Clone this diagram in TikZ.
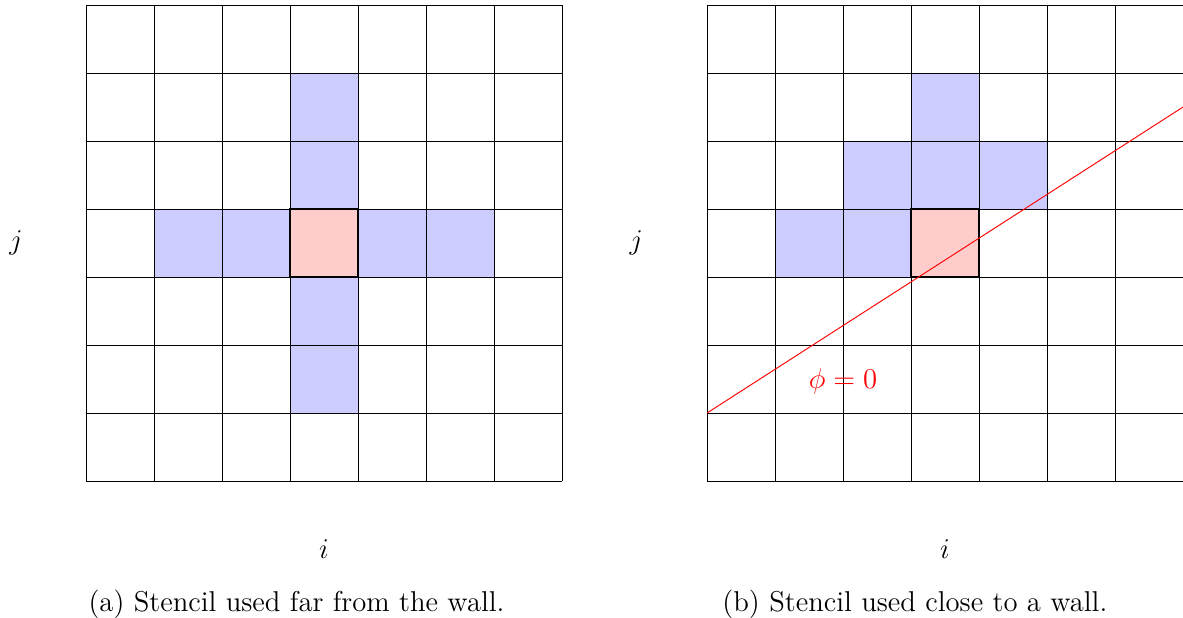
\documentclass[tikz,border=0pt]{standalone}
\usetikzlibrary{positioning}

\begin{document}
\begin{tikzpicture}[
		every node/.style={font=\large},
		stencil/.style={fill=blue!20},
		centre/.style={fill=red!20},
		centreline/.style={thick},
		wall/.style={red},
		caption/.style={anchor=west,inner sep=0pt}
		]
		
		\useasboundingbox (-1.265,-2) rectangle (16.132,7.074);
		
		% (a) far from the wall
		\fill[stencil] (1,3) rectangle (6,4);
		\fill[stencil] (3,1) rectangle (4,6);
		\fill[centre] (3,3) rectangle (4,4);
		\draw (0,0) grid (7,7);
		\draw[centreline] (3,3) rectangle (4,4);
		
		\node
		(ja)
		at (-1.03,3.5)
		{$j$};
		
		\node
		(ia)
		at (3.5,-1.0)
		{$i$};
		
		\node[caption]
		(capa)
		at (0.03,-1.82)
		{(a) Stencil used far from the wall.};
		
		% (b) close to a wall
		\begin{scope}[xshift=9.132cm]
		
		\fill[stencil] (3,5) rectangle (4,6);
		\fill[stencil] (2,4) rectangle (5,5);
		\fill[stencil] (1,3) rectangle (3,4);
		\fill[centre] (3,3) rectangle (4,4);
		\draw (0,0) grid (7,7);
		\draw[centreline] (3,3) rectangle (4,4);
		
		\draw[wall] (0,1) -- (7,5.5);
		
		\node[wall]
		(phi)
		at (2,1.47)
		{$\phi=0$};
		
		\node
		(jb)
		at (-1.04,3.5)
		{$j$};
		
		\node
		(ib)
		at (3.5,-1.0)
		{$i$};
		
		\node[caption]
		(capb)
		at (0.22,-1.82)
		{(b) Stencil used close to a wall.};
		
		\end{scope}
		
	\end{tikzpicture}
\end{document}
